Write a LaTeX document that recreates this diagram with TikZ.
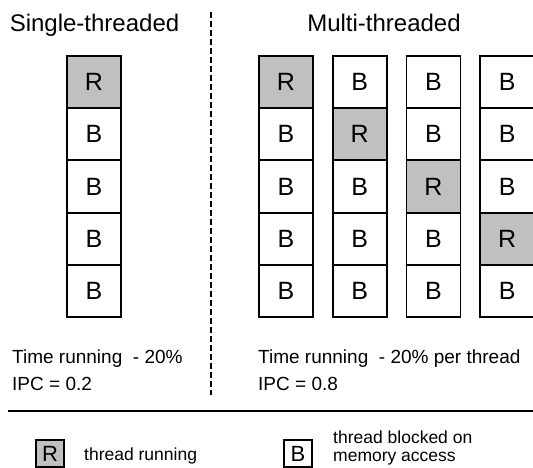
\documentclass[tikz,border=0pt]{standalone}
\usepackage{fontspec}
\setmainfont{Liberation Sans}
\definecolor{rungray}{RGB}{192,192,192}

\begin{document}
\begin{tikzpicture}[x=1pt, y=-1pt, every node/.style={inner sep=0pt},
		cell/.style={draw, line width=1.8pt, minimum width=54pt, minimum height=52.2pt, font=\fontsize{25}{28}\selectfont},
		keybox/.style={draw, line width=1.8pt, minimum width=28pt, minimum height=27pt, font=\fontsize{22}{24}\selectfont},
		heading/.style={anchor=base, font=\fontsize{24}{28}\selectfont},
		note/.style={anchor=base west, font=\fontsize{19}{23}\selectfont},
		keytext/.style={anchor=base west, font=\fontsize{17.5}{19}\selectfont}]
				\useasboundingbox (0,0) rectangle (533,468);
				\clip (0,0) rectangle (533,468);
				% headings
				\node [heading] (single) at (94.5,32) {Single-threaded};
				\node [heading] (multi) at (384,32) {Multi-threaded};
				% single thread column
				\foreach \r in {1,...,5} {
					\ifnum\r=1 \def\fc{rungray}\def\tx{R}\else \def\fc{white}\def\tx{B}\fi
					\node [cell, fill=\fc] (s\r) at (94, {56 + (\r - 0.5) * 52.2}) {\tx};
				}
				% four thread columns
				\foreach \c in {1,...,4} {
					\foreach \r in {1,...,5} {
						\ifnum\r=\c \def\fc{rungray}\def\tx{R}\else \def\fc{white}\def\tx{B}\fi
						\node [cell, fill=\fc] (m\c\r) at ({286 + (\c - 1) * 73.7}, {56 + (\r - 0.5) * 52.2}) {\tx};
					}
				}
				\node [note] (stime) at (12,363) {Time running\ \ - 20\%};
				\node [note] (sipc) at (12,390) {IPC = 0.2};
				\node [note] (mtime) at (258,363) {Time running\ \ - 20\% per thread};
				\node [note] (mipc) at (258,390) {IPC = 0.8};
				% separators
				\coordinate (dtop) at (211,12);
				\coordinate (dbot) at (211,395);
				\draw [line width=1.2pt, dash pattern=on 6pt off 3pt] (dtop) -- (dbot);
				\coordinate (sepl) at (8,411);
				\coordinate (sepr) at (533,411);
				\draw [line width=1.8pt] (sepl) -- (sepr);
				% legend
				\node [keybox, fill=rungray] (keyr) at (50,453.5) {R};
				\node [keytext] (keyrtxt) at (84,460) {thread running};
				\node [keybox, fill=white] (keyb) at (298,453.5) {B};
				\node [keytext] (keybtxt) at (333,443) {thread blocked on};
				\node [keytext] (keybtxt2) at (333,461) {memory access};
			\end{tikzpicture}
\end{document}
